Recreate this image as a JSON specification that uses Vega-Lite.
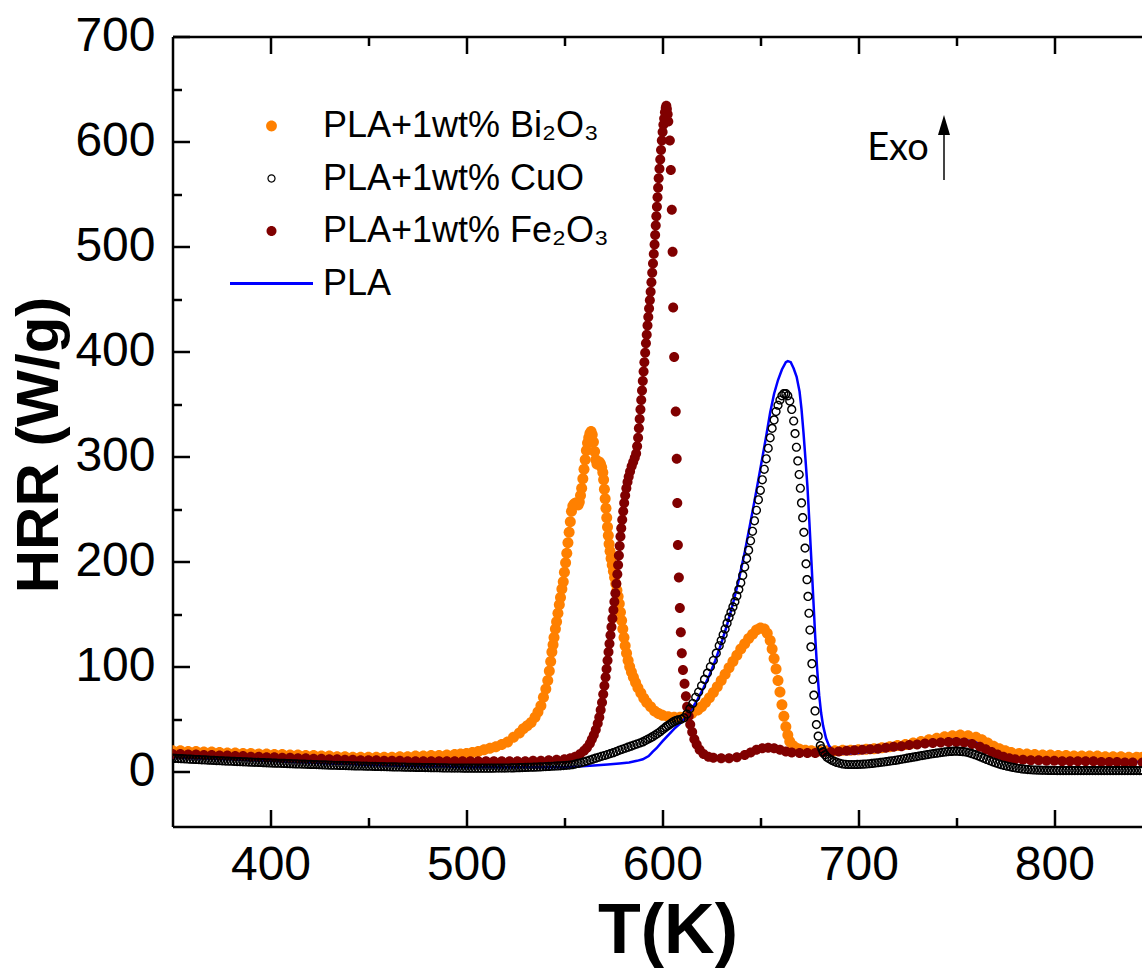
{
  "$schema": "https://vega.github.io/schema/vega-lite/v6.json",
  "width": 970,
  "height": 790,
  "autosize": {"type": "none"},
  "padding": {"left": 172.5, "top": 36.5, "right": 0, "bottom": 141.5},
  "background": "white",
  "config": {
    "view": {"stroke": null},
    "axis": {"grid": false, "domainColor": "black", "domainWidth": 2.5, "tickColor": "black", "tickWidth": 2.5, "labelFont": "Liberation Sans", "labelFontSize": 48, "labelColor": "black", "labelFlush": false, "labelOverlap": false, "titleFont": "Liberation Sans", "titleColor": "black", "titleFontWeight": "bold"}
  },
  "datasets": {
    "bi": [
      {"T":350,"H":20},{"T":354,"H":20},{"T":358,"H":19.5},{"T":362,"H":19.5},{"T":366,"H":19},{"T":370,"H":19},{"T":374,"H":18.5},{"T":378,"H":18},{"T":382,"H":18},{"T":386,"H":17.5},{"T":390,"H":17.5},{"T":394,"H":17},{"T":398,"H":17},{"T":402,"H":16.5},{"T":406,"H":16.5},{"T":410,"H":16},{"T":414,"H":16},{"T":418,"H":15.5},{"T":422,"H":15.5},{"T":426,"H":15},{"T":430,"H":15},{"T":434,"H":14.5},{"T":438,"H":14.5},{"T":442,"H":14},{"T":446,"H":14},{"T":450,"H":14},{"T":454,"H":14},{"T":458,"H":14},{"T":462,"H":14},{"T":466,"H":14.5},{"T":470,"H":14.5},{"T":474,"H":15},{"T":478,"H":15},{"T":482,"H":15.5},{"T":486,"H":15.5},{"T":490,"H":16},{"T":494,"H":16.5},{"T":497,"H":17},{"T":500,"H":17.5},{"T":503,"H":18.5},{"T":506,"H":19.5},{"T":509,"H":21},{"T":512,"H":22.5},{"T":515,"H":24},{"T":518,"H":26},{"T":521,"H":28.5},{"T":524,"H":33},{"T":527,"H":37},{"T":529,"H":41},{"T":531,"H":44},{"T":533,"H":47},{"T":535,"H":52},{"T":536.5,"H":57},{"T":538,"H":63},{"T":539.3,"H":71},{"T":540.5,"H":79},{"T":541.5,"H":87},{"T":542.3,"H":96},{"T":543,"H":105},{"T":543.6,"H":114},{"T":544.2,"H":121},{"T":544.7,"H":128},{"T":545.4,"H":136},{"T":546,"H":143},{"T":546.7,"H":151},{"T":547.4,"H":159},{"T":548,"H":166},{"T":548.7,"H":174},{"T":549.4,"H":181},{"T":550,"H":190},{"T":550.6,"H":199},{"T":551.2,"H":208},{"T":551.8,"H":218},{"T":552.4,"H":228},{"T":553,"H":238},{"T":553.6,"H":248},{"T":554.3,"H":253},{"T":555,"H":255},{"T":555.7,"H":256},{"T":556.4,"H":255},{"T":557,"H":254},{"T":557.6,"H":257},{"T":558.2,"H":263},{"T":558.8,"H":270},{"T":559.4,"H":279},{"T":560,"H":288},{"T":560.6,"H":297},{"T":561.2,"H":306},{"T":561.8,"H":313},{"T":562.4,"H":318},{"T":563,"H":322},{"T":563.6,"H":324},{"T":564.2,"H":321},{"T":564.8,"H":314},{"T":565.4,"H":305},{"T":566,"H":297},{"T":566.6,"H":293},{"T":567.2,"H":294},{"T":567.8,"H":295},{"T":568.4,"H":293},{"T":569,"H":290},{"T":569.6,"H":285},{"T":570,"H":278},{"T":570.4,"H":269},{"T":570.8,"H":260},{"T":571.2,"H":251},{"T":571.6,"H":242},{"T":572,"H":233},{"T":572.4,"H":225},{"T":572.8,"H":217},{"T":573.3,"H":210},{"T":573.8,"H":203},{"T":574.4,"H":197},{"T":575,"H":191},{"T":575.6,"H":185},{"T":576.2,"H":179},{"T":576.8,"H":173},{"T":577.4,"H":167},{"T":578,"H":160},{"T":578.6,"H":152},{"T":579.2,"H":144},{"T":579.8,"H":136},{"T":580.4,"H":128},{"T":581,"H":120},{"T":581.7,"H":113},{"T":582.5,"H":106},{"T":583.3,"H":100},{"T":584.2,"H":95},{"T":585.2,"H":90},{"T":586.3,"H":85},{"T":587.5,"H":80},{"T":589,"H":75},{"T":590.5,"H":70},{"T":592,"H":66},{"T":594,"H":62},{"T":596,"H":58},{"T":598,"H":55.5},{"T":600,"H":54},{"T":603,"H":52.5},{"T":606,"H":52},{"T":609,"H":52},{"T":612,"H":53},{"T":615,"H":55.5},{"T":618,"H":59},{"T":620,"H":62},{"T":622,"H":66},{"T":624,"H":70.5},{"T":626,"H":75.5},{"T":628,"H":81},{"T":630,"H":87},{"T":632,"H":93},{"T":634,"H":99},{"T":636,"H":105},{"T":638,"H":111},{"T":640,"H":117},{"T":642,"H":122},{"T":644,"H":127},{"T":646,"H":131},{"T":648,"H":135},{"T":650,"H":137},{"T":652,"H":136},{"T":653.5,"H":132},{"T":655,"H":125},{"T":656,"H":117},{"T":657,"H":108},{"T":658,"H":98},{"T":659,"H":87},{"T":660,"H":76},{"T":661,"H":64},{"T":662,"H":53},{"T":663,"H":43},{"T":664,"H":35},{"T":665,"H":29},{"T":666.5,"H":25},{"T":668,"H":23},{"T":670,"H":21.5},{"T":673,"H":20.5},{"T":676,"H":20},{"T":680,"H":20},{"T":684,"H":20},{"T":688,"H":20},{"T":692,"H":20.5},{"T":696,"H":20.5},{"T":700,"H":21},{"T":704,"H":21.5},{"T":708,"H":22},{"T":712,"H":23},{"T":716,"H":24},{"T":720,"H":25},{"T":724,"H":26},{"T":728,"H":27.5},{"T":732,"H":29},{"T":736,"H":30.5},{"T":740,"H":32},{"T":744,"H":33.5},{"T":748,"H":34.5},{"T":752,"H":35},{"T":756,"H":34.5},{"T":760,"H":33},{"T":763,"H":30.5},{"T":766,"H":27.5},{"T":769,"H":24.5},{"T":772,"H":22},{"T":775,"H":20},{"T":778,"H":18.5},{"T":782,"H":17.5},{"T":786,"H":17},{"T":790,"H":16.5},{"T":794,"H":16},{"T":798,"H":16},{"T":802,"H":15.5},{"T":806,"H":15.5},{"T":810,"H":15},{"T":814,"H":15},{"T":818,"H":15},{"T":822,"H":15},{"T":826,"H":14.5},{"T":830,"H":14.5},{"T":834,"H":14.5},{"T":838,"H":14},{"T":842,"H":14},{"T":845,"H":14}
    ],
    "fe": [
      {"T":350,"H":17},{"T":354,"H":17},{"T":358,"H":16.5},{"T":362,"H":16.5},{"T":366,"H":16},{"T":370,"H":16},{"T":374,"H":15.5},{"T":378,"H":15.5},{"T":382,"H":15},{"T":386,"H":15},{"T":390,"H":14.5},{"T":394,"H":14.5},{"T":398,"H":14},{"T":402,"H":14},{"T":406,"H":13.5},{"T":410,"H":13.5},{"T":414,"H":13},{"T":418,"H":13},{"T":422,"H":12.5},{"T":426,"H":12.5},{"T":430,"H":12},{"T":434,"H":12},{"T":438,"H":11.5},{"T":442,"H":11.5},{"T":446,"H":11},{"T":450,"H":11},{"T":454,"H":11},{"T":458,"H":10.5},{"T":462,"H":10.5},{"T":466,"H":10.5},{"T":470,"H":10},{"T":474,"H":10},{"T":478,"H":10},{"T":482,"H":10},{"T":486,"H":10},{"T":490,"H":10},{"T":494,"H":10},{"T":498,"H":10},{"T":502,"H":10},{"T":506,"H":10},{"T":510,"H":10},{"T":514,"H":10},{"T":518,"H":10},{"T":522,"H":10},{"T":526,"H":10},{"T":530,"H":10},{"T":534,"H":10.5},{"T":538,"H":10.5},{"T":542,"H":11},{"T":546,"H":11.5},{"T":550,"H":12},{"T":553,"H":13},{"T":555.5,"H":14.5},{"T":558,"H":17},{"T":560,"H":20},{"T":561.5,"H":23},{"T":563,"H":27},{"T":564,"H":31},{"T":565,"H":35},{"T":566,"H":40},{"T":567,"H":46},{"T":567.8,"H":52},{"T":568.5,"H":59},{"T":569.2,"H":66},{"T":569.8,"H":74},{"T":570.4,"H":82},{"T":571,"H":90},{"T":571.5,"H":98},{"T":572,"H":106},{"T":572.5,"H":114},{"T":573,"H":122},{"T":573.5,"H":130},{"T":574,"H":138},{"T":574.5,"H":146},{"T":575,"H":154},{"T":575.5,"H":162},{"T":576,"H":170},{"T":576.5,"H":179},{"T":577,"H":188},{"T":577.4,"H":197},{"T":577.8,"H":206},{"T":578.2,"H":215},{"T":578.6,"H":224},{"T":579,"H":232},{"T":579.5,"H":240},{"T":580,"H":248},{"T":580.5,"H":256},{"T":581,"H":263},{"T":581.6,"H":270},{"T":582.2,"H":276},{"T":582.8,"H":281},{"T":583.5,"H":286},{"T":584.3,"H":291},{"T":585.1,"H":295},{"T":585.9,"H":299},{"T":586.6,"H":303},{"T":587.1,"H":310},{"T":587.6,"H":318},{"T":588,"H":327},{"T":588.4,"H":336},{"T":588.8,"H":345},{"T":589.2,"H":354},{"T":589.6,"H":363},{"T":590,"H":372},{"T":590.4,"H":381},{"T":590.8,"H":390},{"T":591.2,"H":399},{"T":591.6,"H":408},{"T":592,"H":416},{"T":592.4,"H":425},{"T":592.8,"H":433},{"T":593.2,"H":441},{"T":593.6,"H":449},{"T":594,"H":457},{"T":594.4,"H":466},{"T":594.8,"H":475},{"T":595.2,"H":484},{"T":595.6,"H":493},{"T":596,"H":502},{"T":596.3,"H":511},{"T":596.6,"H":520},{"T":596.9,"H":529},{"T":597.2,"H":538},{"T":597.5,"H":547},{"T":597.8,"H":556},{"T":598.1,"H":565},{"T":598.5,"H":574},{"T":598.9,"H":583},{"T":599.3,"H":592},{"T":599.7,"H":601},{"T":600.1,"H":609},{"T":600.5,"H":616},{"T":600.9,"H":622},{"T":601.3,"H":628},{"T":601.7,"H":632},{"T":602,"H":634},{"T":602.3,"H":631},{"T":602.7,"H":626},{"T":603,"H":619},{"T":603.8,"H":601},{"T":604.3,"H":573},{"T":604.8,"H":535},{"T":605.2,"H":495},{"T":605.5,"H":442},{"T":606,"H":395},{"T":606.8,"H":343},{"T":607.3,"H":298},{"T":607.6,"H":256},{"T":607.9,"H":216},{"T":608.4,"H":185},{"T":608.9,"H":156},{"T":609.4,"H":133},{"T":609.9,"H":113},{"T":610.5,"H":97},{"T":611.3,"H":84},{"T":612,"H":72},{"T":612.6,"H":62},{"T":613.4,"H":53},{"T":614.2,"H":45},{"T":615.2,"H":38},{"T":616.3,"H":31},{"T":617.5,"H":26},{"T":619,"H":21},{"T":621,"H":17},{"T":623.5,"H":14.5},{"T":626,"H":13.5},{"T":630,"H":13},{"T":634,"H":13},{"T":638,"H":14},{"T":642,"H":16},{"T":645,"H":18.5},{"T":648,"H":21},{"T":651,"H":22.5},{"T":654,"H":23},{"T":657,"H":22.5},{"T":660,"H":21},{"T":663,"H":19.5},{"T":666,"H":18.5},{"T":670,"H":18},{"T":674,"H":18},{"T":678,"H":18},{"T":682,"H":18.5},{"T":686,"H":19},{"T":690,"H":19.5},{"T":694,"H":20},{"T":698,"H":20.5},{"T":702,"H":21},{"T":706,"H":21.5},{"T":710,"H":22},{"T":714,"H":23},{"T":718,"H":24},{"T":722,"H":24.5},{"T":726,"H":25.5},{"T":730,"H":26},{"T":734,"H":27},{"T":738,"H":27.5},{"T":742,"H":28},{"T":746,"H":28.5},{"T":750,"H":28.5},{"T":754,"H":28},{"T":758,"H":26.5},{"T":762,"H":24},{"T":765,"H":21.5},{"T":768,"H":19},{"T":771,"H":16.5},{"T":774,"H":14.5},{"T":777,"H":13},{"T":780,"H":12},{"T":784,"H":11.5},{"T":788,"H":11},{"T":792,"H":11},{"T":796,"H":10.5},{"T":800,"H":10.5},{"T":804,"H":10},{"T":808,"H":10},{"T":812,"H":10},{"T":816,"H":10},{"T":820,"H":10},{"T":824,"H":9.5},{"T":828,"H":9.5},{"T":832,"H":9.5},{"T":836,"H":9},{"T":840,"H":9},{"T":845,"H":9}
    ],
    "cu": [
      {"T":350,"H":13},{"T":351.5,"H":12.85},{"T":353,"H":12.7},{"T":354.5,"H":12.55},{"T":356,"H":12.4},{"T":357.5,"H":12.25},{"T":359,"H":12.1},{"T":360.5,"H":11.95},{"T":362,"H":11.8},{"T":363.5,"H":11.65},{"T":365,"H":11.5},{"T":366.5,"H":11.35},{"T":368,"H":11.2},{"T":369.5,"H":11.05},{"T":371,"H":10.9},{"T":372.5,"H":10.75},{"T":374,"H":10.6},{"T":375.5,"H":10.45},{"T":377,"H":10.3},{"T":378.5,"H":10.2},{"T":380,"H":10.1},{"T":381.5,"H":9.95},{"T":383,"H":9.8},{"T":384.5,"H":9.7},{"T":386,"H":9.6},{"T":387.5,"H":9.45},{"T":389,"H":9.3},{"T":390.5,"H":9.2},{"T":392,"H":9.1},{"T":393.5,"H":9},{"T":395,"H":8.9},{"T":396.5,"H":8.75},{"T":398,"H":8.6},{"T":399.5,"H":8.5},{"T":401,"H":8.4},{"T":402.5,"H":8.3},{"T":404,"H":8.2},{"T":405.5,"H":8.1},{"T":407,"H":8},{"T":408.5,"H":7.9},{"T":410,"H":7.8},{"T":411.5,"H":7.7},{"T":413,"H":7.6},{"T":414.5,"H":7.5},{"T":416,"H":7.4},{"T":417.5,"H":7.3},{"T":419,"H":7.2},{"T":420.5,"H":7.1},{"T":422,"H":7},{"T":423.5,"H":6.9},{"T":425,"H":6.8},{"T":426.5,"H":6.7},{"T":428,"H":6.6},{"T":429.5,"H":6.5},{"T":431,"H":6.4},{"T":432.5,"H":6.3},{"T":434,"H":6.2},{"T":435.5,"H":6.15},{"T":437,"H":6.1},{"T":438.5,"H":6},{"T":440,"H":5.9},{"T":441.5,"H":5.8},{"T":443,"H":5.7},{"T":444.5,"H":5.65},{"T":446,"H":5.6},{"T":447.5,"H":5.5},{"T":449,"H":5.4},{"T":450.5,"H":5.35},{"T":452,"H":5.3},{"T":453.5,"H":5.2},{"T":455,"H":5.1},{"T":456.5,"H":5.05},{"T":458,"H":5},{"T":459.5,"H":4.9},{"T":461,"H":4.8},{"T":462.5,"H":4.75},{"T":464,"H":4.7},{"T":465.5,"H":4.65},{"T":467,"H":4.6},{"T":468.5,"H":4.5},{"T":470,"H":4.4},{"T":471.5,"H":4.35},{"T":473,"H":4.3},{"T":474.5,"H":4.25},{"T":476,"H":4.2},{"T":477.5,"H":4.15},{"T":479,"H":4.1},{"T":480.5,"H":4.05},{"T":482,"H":4},{"T":483.5,"H":3.95},{"T":485,"H":3.9},{"T":486.5,"H":3.85},{"T":488,"H":3.8},{"T":489.5,"H":3.75},{"T":491,"H":3.7},{"T":492.5,"H":3.65},{"T":494,"H":3.6},{"T":495.5,"H":3.6},{"T":497,"H":3.6},{"T":498.5,"H":3.55},{"T":500,"H":3.5},{"T":501.5,"H":3.5},{"T":503,"H":3.5},{"T":504.5,"H":3.5},{"T":506,"H":3.5},{"T":507.5,"H":3.5},{"T":509,"H":3.5},{"T":510.5,"H":3.5},{"T":512,"H":3.5},{"T":513.5,"H":3.55},{"T":515,"H":3.6},{"T":516.5,"H":3.6},{"T":518,"H":3.6},{"T":519.5,"H":3.65},{"T":521,"H":3.7},{"T":522.5,"H":3.75},{"T":524,"H":3.8},{"T":525.5,"H":3.9},{"T":527,"H":4},{"T":528.5,"H":4.1},{"T":530,"H":4.2},{"T":531.5,"H":4.3},{"T":533,"H":4.4},{"T":534.5,"H":4.5},{"T":536,"H":4.6},{"T":537.5,"H":4.75},{"T":539,"H":4.9},{"T":540.5,"H":5.05},{"T":542,"H":5.2},{"T":543.5,"H":5.35},{"T":545,"H":5.5},{"T":546.5,"H":5.65},{"T":548,"H":5.8},{"T":549.5,"H":6},{"T":551,"H":6.2},{"T":552.5,"H":6.5},{"T":554,"H":6.8},{"T":555.5,"H":7.4},{"T":557,"H":8},{"T":558.5,"H":8.7},{"T":560,"H":9.5},{"T":561.5,"H":10.3},{"T":563,"H":11.2},{"T":564.5,"H":12.1},{"T":566,"H":13},{"T":567.5,"H":13.9},{"T":569,"H":14.8},{"T":570.5,"H":15.6},{"T":572,"H":16.5},{"T":573.5,"H":17.4},{"T":575,"H":18.3},{"T":576.5,"H":19.4},{"T":578,"H":20.5},{"T":579.5,"H":21.5},{"T":581,"H":22.5},{"T":582.5,"H":23.5},{"T":584,"H":24.5},{"T":585.5,"H":25.5},{"T":587,"H":26.5},{"T":588.5,"H":27.5},{"T":590,"H":28.5},{"T":591.3,"H":29.8},{"T":592.5,"H":31},{"T":593.8,"H":32.2},{"T":595,"H":33.5},{"T":596.3,"H":35},{"T":597.5,"H":36.5},{"T":598.8,"H":38.2},{"T":600,"H":40},{"T":601,"H":41.5},{"T":602,"H":43},{"T":603,"H":44.2},{"T":604,"H":45.5},{"T":605,"H":46.8},{"T":606,"H":48},{"T":607,"H":48.8},{"T":608,"H":49.5},{"T":609.5,"H":50},{"T":611,"H":51.5},{"T":612.5,"H":55},{"T":614,"H":60},{"T":615.5,"H":65},{"T":617,"H":71},{"T":618.5,"H":76},{"T":620,"H":82},{"T":621.5,"H":88},{"T":623,"H":94},{"T":624.5,"H":100},{"T":626,"H":106},{"T":627.5,"H":113},{"T":629,"H":120},{"T":630,"H":125},{"T":631,"H":130.5},{"T":632,"H":136},{"T":633,"H":141.5},{"T":634,"H":147},{"T":635,"H":152},{"T":636,"H":157},{"T":637,"H":162},{"T":638,"H":167.5},{"T":639,"H":173.5},{"T":640,"H":180},{"T":641,"H":187},{"T":642,"H":195},{"T":643,"H":203},{"T":644,"H":211},{"T":645,"H":220},{"T":646,"H":229},{"T":647,"H":239},{"T":648,"H":249},{"T":649,"H":259},{"T":650,"H":268},{"T":651,"H":278},{"T":652,"H":288},{"T":653,"H":298},{"T":654,"H":308},{"T":655,"H":318},{"T":656,"H":327},{"T":657,"H":335},{"T":658,"H":343},{"T":659,"H":349},{"T":660,"H":354},{"T":661,"H":358},{"T":662,"H":360},{"T":663,"H":360},{"T":664,"H":358},{"T":665,"H":353},{"T":666,"H":345},{"T":667,"H":334},{"T":667.7,"H":322},{"T":668.4,"H":309},{"T":669.1,"H":296},{"T":669.8,"H":283},{"T":670.4,"H":270},{"T":671,"H":256},{"T":671.6,"H":242},{"T":672.2,"H":228},{"T":672.8,"H":213},{"T":673.3,"H":198},{"T":673.8,"H":183},{"T":674.3,"H":167},{"T":674.8,"H":151},{"T":675.3,"H":135},{"T":675.8,"H":119},{"T":676.3,"H":103},{"T":676.8,"H":88},{"T":677.3,"H":73},{"T":677.9,"H":58},{"T":678.6,"H":45},{"T":679.5,"H":34},{"T":680.6,"H":25},{"T":681.3,"H":22},{"T":682,"H":19},{"T":683,"H":16.3},{"T":684,"H":14},{"T":685.2,"H":12.5},{"T":686.5,"H":11},{"T":687.7,"H":10},{"T":689,"H":9},{"T":690.5,"H":8.2},{"T":692,"H":7.5},{"T":693.5,"H":7.2},{"T":695,"H":7},{"T":696.5,"H":7},{"T":698,"H":7},{"T":699.5,"H":7.1},{"T":701,"H":7.2},{"T":702.5,"H":7.35},{"T":704,"H":7.5},{"T":705.5,"H":7.75},{"T":707,"H":8},{"T":708.5,"H":8.35},{"T":710,"H":8.7},{"T":711.5,"H":9.05},{"T":713,"H":9.4},{"T":714.5,"H":9.8},{"T":716,"H":10.2},{"T":717.5,"H":10.6},{"T":719,"H":11},{"T":720.5,"H":11.5},{"T":722,"H":12},{"T":723.5,"H":12.5},{"T":725,"H":13},{"T":726.5,"H":13.5},{"T":728,"H":14},{"T":729.5,"H":14.5},{"T":731,"H":15},{"T":732.5,"H":15.5},{"T":734,"H":16},{"T":735.5,"H":16.5},{"T":737,"H":17},{"T":738.5,"H":17.4},{"T":740,"H":17.8},{"T":741.5,"H":18.2},{"T":743,"H":18.6},{"T":744.5,"H":19},{"T":746,"H":19.3},{"T":747.5,"H":19.5},{"T":749,"H":19.7},{"T":750.5,"H":19.7},{"T":752,"H":19.5},{"T":753.5,"H":19.2},{"T":755,"H":18.8},{"T":756.5,"H":18.1},{"T":758,"H":17.3},{"T":759.5,"H":16.4},{"T":761,"H":15.3},{"T":762.5,"H":14.2},{"T":764,"H":13},{"T":765.5,"H":11.8},{"T":767,"H":10.7},{"T":768.5,"H":9.6},{"T":770,"H":8.6},{"T":771.5,"H":7.7},{"T":773,"H":6.8},{"T":774.5,"H":6.1},{"T":776,"H":5.4},{"T":777.5,"H":4.8},{"T":779,"H":4.2},{"T":780.5,"H":3.7},{"T":782,"H":3.2},{"T":783.5,"H":2.8},{"T":785,"H":2.5},{"T":786.5,"H":2.2},{"T":788,"H":2},{"T":789.5,"H":1.8},{"T":791,"H":1.7},{"T":792.5,"H":1.6},{"T":794,"H":1.5},{"T":795.5,"H":1.45},{"T":797,"H":1.4},{"T":798.5,"H":1.35},{"T":800,"H":1.3},{"T":801.5,"H":1.25},{"T":803,"H":1.2},{"T":804.5,"H":1.2},{"T":806,"H":1.2},{"T":807.5,"H":1.2},{"T":809,"H":1.2},{"T":810.5,"H":1.2},{"T":812,"H":1.2},{"T":813.5,"H":1.2},{"T":815,"H":1.2},{"T":816.5,"H":1.2},{"T":818,"H":1.2},{"T":819.5,"H":1.2},{"T":821,"H":1.2},{"T":822.5,"H":1.2},{"T":824,"H":1.2},{"T":825.5,"H":1.2},{"T":827,"H":1.2},{"T":828.5,"H":1.2},{"T":830,"H":1.2},{"T":831.5,"H":1.2},{"T":833,"H":1.2},{"T":834.5,"H":1.2},{"T":836,"H":1.2},{"T":837.5,"H":1.2},{"T":839,"H":1.2},{"T":840.5,"H":1.2},{"T":842,"H":1.2},{"T":843.5,"H":1.2},{"T":845,"H":1.2}
    ],
    "pla": [
      {"T":350,"H":14},{"T":360,"H":13},{"T":370,"H":12.5},{"T":380,"H":12},{"T":390,"H":11},{"T":400,"H":10.5},{"T":410,"H":9.5},{"T":420,"H":9},{"T":430,"H":8},{"T":440,"H":7.5},{"T":450,"H":6.5},{"T":460,"H":6},{"T":470,"H":5.5},{"T":480,"H":5},{"T":490,"H":5},{"T":500,"H":4.5},{"T":510,"H":4.5},{"T":520,"H":4.5},{"T":530,"H":4.5},{"T":540,"H":4.5},{"T":550,"H":4.5},{"T":557,"H":5},{"T":565,"H":6},{"T":572,"H":7},{"T":578,"H":8},{"T":583,"H":9},{"T":587,"H":10.5},{"T":590,"H":12},{"T":593,"H":15},{"T":595,"H":19},{"T":597,"H":22.5},{"T":600,"H":29},{"T":603,"H":35},{"T":606,"H":41},{"T":609,"H":46},{"T":612,"H":52},{"T":615,"H":60},{"T":618,"H":69},{"T":621,"H":80},{"T":624,"H":92},{"T":627,"H":106},{"T":630,"H":122},{"T":633,"H":140},{"T":636,"H":160},{"T":639,"H":183},{"T":642,"H":209},{"T":645,"H":238},{"T":648,"H":268},{"T":651,"H":299},{"T":653,"H":320},{"T":655,"H":342},{"T":657,"H":360},{"T":659,"H":373},{"T":661,"H":383},{"T":663,"H":390},{"T":664,"H":391},{"T":665.5,"H":390},{"T":667,"H":384},{"T":668.5,"H":376},{"T":670,"H":362},{"T":671,"H":345},{"T":672,"H":323},{"T":673,"H":298},{"T":674,"H":272},{"T":675,"H":238},{"T":676,"H":202},{"T":677,"H":165},{"T":678,"H":128},{"T":679,"H":97},{"T":680,"H":73},{"T":681,"H":56},{"T":682,"H":44},{"T":683.5,"H":32},{"T":685,"H":25},{"T":687,"H":20},{"T":690,"H":17.5},{"T":695,"H":17.5},{"T":700,"H":18},{"T":710,"H":20},{"T":720,"H":22.5},{"T":730,"H":25.5},{"T":740,"H":28.5},{"T":748,"H":30.5},{"T":755,"H":30},{"T":760,"H":28},{"T":765,"H":23},{"T":770,"H":18},{"T":775,"H":14.5},{"T":780,"H":13},{"T":790,"H":12},{"T":800,"H":11},{"T":820,"H":10},{"T":845,"H":9.5}
    ]
  },
  "layer": [
    {
      "data": {"name": "bi"},
      "mark": {"type": "point", "filled": true, "size": 415, "opacity": 1, "strokeWidth": 0, "clip": true},
      "encoding": {
        "x": {"field": "T", "type": "quantitative", "scale": {"domain": [350, 845], "nice": false, "zero": false},
          "axis": {"orient": "bottom", "values": [400, 500, 600, 700, 800], "tickSize": -17, "labelPadding": 32, "title": "T(K)", "titleFontSize": 70, "titleX": 495, "titleY": 126, "titleBaseline": "alphabetic", "titleAlign": "center"}},
        "y": {"field": "H", "type": "quantitative", "scale": {"domain": [-52, 700], "nice": false, "zero": false},
          "axis": {"orient": "left", "values": [0, 100, 200, 300, 400, 500, 600, 700], "tickSize": -17, "labelPadding": 34.5, "title": "HRR (W/g)", "titleFontSize": 60, "titleX": -115, "titleY": 408, "titleBaseline": "alphabetic", "titleAlign": "center", "titleAngle": 270}},
        "color": {"datum": "PLA+1wt% Bi₂O₃", "type": "nominal",
          "scale": {"domain": ["PLA+1wt% Bi₂O₃", "PLA+1wt% CuO", "PLA+1wt% Fe₂O₃", "PLA"], "range": ["#FF8000", "#000000", "#800000", "#0000FF"]},
          "legend": {"title": null, "orient": "none", "legendX": 81, "legendY": 71.5, "padding": 0, "symbolSize": 400, "symbolStrokeWidth": 0, "symbolOffset": 0, "symbolOpacity": 1, "labelOffset": 33.5, "labelFont": "Liberation Sans", "labelFontSize": 36, "labelColor": "black", "labelLimit": 0, "rowPadding": 16.5}},
        "shape": {"datum": "PLA+1wt% Bi₂O₃", "type": "nominal",
          "scale": {"domain": ["PLA+1wt% Bi₂O₃", "PLA+1wt% CuO", "PLA+1wt% Fe₂O₃", "PLA"], "range": ["M-0.54,0A0.54,0.54 0 1,0 0.54,0A0.54,0.54 0 1,0 -0.54,0Z", "M-0.415,0A0.415,0.415 0 1,0 0.415,0A0.415,0.415 0 1,0 -0.415,0ZM-0.29,0A0.29,0.29 0 1,1 0.29,0A0.29,0.29 0 1,1 -0.29,0Z", "M-0.5,0A0.5,0.5 0 1,0 0.5,0A0.5,0.5 0 1,0 -0.5,0Z", "M-4.15,-0.14L4.15,-0.14L4.15,0.14L-4.15,0.14Z"]},
          "legend": {"title": null, "orient": "none", "legendX": 81, "legendY": 71.5, "padding": 0, "symbolSize": 400, "symbolStrokeWidth": 0, "symbolOffset": 0, "symbolOpacity": 1, "labelOffset": 33.5, "labelFont": "Liberation Sans", "labelFontSize": 36, "labelColor": "black", "labelLimit": 0, "rowPadding": 16.5}}
      }
    },
    {
      "data": {"name": "pla"},
      "mark": {"type": "line", "strokeWidth": 2.5, "clip": true},
      "encoding": {
        "x": {"field": "T", "type": "quantitative", "scale": {"domain": [350, 845], "nice": false, "zero": false},
          "axis": {"orient": "top", "values": [400, 500, 600, 700, 800], "tickSize": -17, "labels": false, "domain": true, "title": null}},
        "y": {"field": "H", "type": "quantitative", "scale": {"domain": [-52, 700], "nice": false, "zero": false}, "axis": null},
        "color": {"datum": "PLA", "type": "nominal"}
      }
    },
    {
      "data": {"name": "fe"},
      "mark": {"type": "point", "filled": true, "size": 400, "opacity": 1, "strokeWidth": 0, "clip": true},
      "encoding": {
        "x": {"field": "T", "type": "quantitative", "scale": {"domain": [350, 845], "nice": false, "zero": false},
          "axis": {"orient": "bottom", "values": [450, 550, 650, 750], "tickSize": -9, "labels": false, "domain": false, "title": null}},
        "y": {"field": "H", "type": "quantitative", "scale": {"domain": [-52, 700], "nice": false, "zero": false},
          "axis": {"orient": "left", "values": [50, 150, 250, 350, 450, 550, 650], "tickSize": -9, "labels": false, "domain": false, "title": null}},
        "color": {"datum": "PLA+1wt% Fe₂O₃", "type": "nominal"},
        "shape": {"datum": "PLA+1wt% Fe₂O₃", "type": "nominal"}
      }
    },
    {
      "data": {"name": "cu"},
      "mark": {"type": "point", "filled": true, "size": 491, "opacity": 1, "strokeWidth": 0, "clip": true},
      "encoding": {
        "x": {"field": "T", "type": "quantitative", "scale": {"domain": [350, 845], "nice": false, "zero": false}, "axis": null},
        "y": {"field": "H", "type": "quantitative", "scale": {"domain": [-52, 700], "nice": false, "zero": false}, "axis": null},
        "color": {"datum": "PLA+1wt% CuO", "type": "nominal"},
        "shape": {"datum": "PLA+1wt% CuO", "type": "nominal"}
      }
    },
    {
      "data": {"values": [{}]},
      "mark": {"type": "rule", "color": "#444444", "strokeWidth": 2},
      "encoding": {
        "x": {"datum": 743.7, "type": "quantitative", "scale": {"domain": [350, 845], "nice": false, "zero": false},
          "axis": {"orient": "top", "values": [450, 550, 650, 750], "tickSize": -9, "labels": false, "domain": false, "title": null}},
        "y": {"datum": 563.4, "type": "quantitative", "scale": {"domain": [-52, 700], "nice": false, "zero": false}, "axis": null},
        "y2": {"datum": 611}
      }
    },
    {
      "data": {"values": [{}]},
      "mark": {"type": "point", "filled": true, "color": "black", "opacity": 1, "strokeWidth": 0, "size": 400, "shape": "M0,-1L0.6,1L-0.6,1Z"},
      "encoding": {
        "x": {"datum": 743.7, "type": "quantitative", "axis": null},
        "y": {"datum": 615.8, "type": "quantitative", "axis": null}
      }
    },
    {
      "data": {"values": [{}]},
      "mark": {"type": "text", "text": "Exo", "font": "Lato", "fontSize": 38, "color": "black", "align": "left", "baseline": "alphabetic"},
      "encoding": {
        "x": {"datum": 704.5, "type": "quantitative", "axis": null},
        "y": {"datum": 582.4, "type": "quantitative", "axis": null}
      }
    }
  ],
  "resolve": {"axis": {"x": "independent", "y": "independent"}}
}
